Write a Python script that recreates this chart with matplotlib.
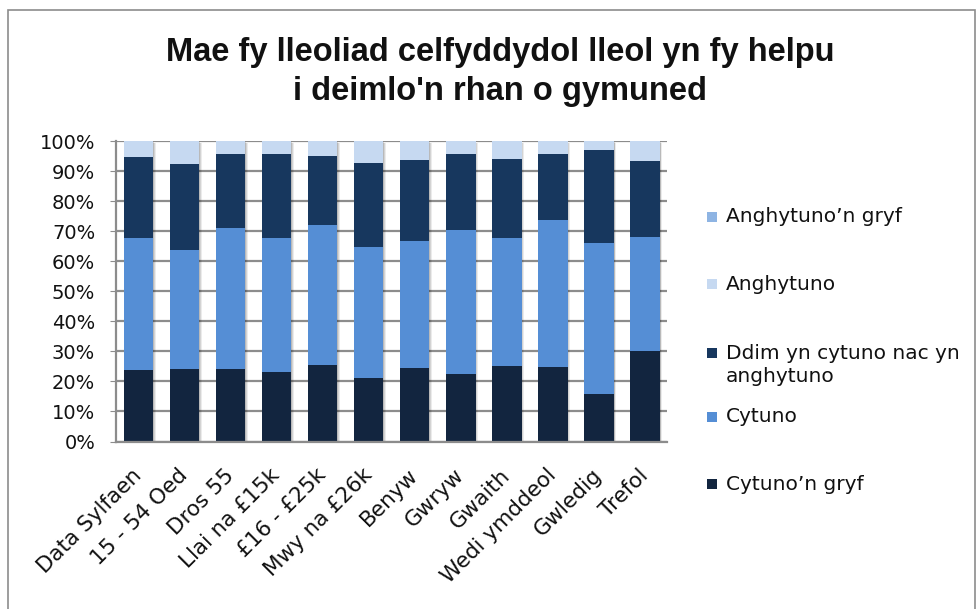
import matplotlib
matplotlib.use("Agg")
import matplotlib.pyplot as plt
from matplotlib.patches import Rectangle
import numpy as np

categories = ["Data Sylfaen", "15 - 54 Oed", "Dros 55", "Llai na £15k", "£16 - £25k",
              "Mwy na £26k", "Benyw", "Gwryw", "Gwaith", "Wedi ymddeol", "Gwledig", "Trefol"]

cytuno_gryf = [23.7, 24.0, 24.0, 23.2, 25.3, 21.1, 24.3, 22.6, 25.0, 24.7, 15.8, 30.0]
cytuno      = [44.1, 39.6, 47.0, 44.6, 46.8, 43.5, 42.5, 47.7, 42.8, 48.9, 50.2, 38.1]
ddim        = [26.8, 28.8, 24.6, 27.8, 22.8, 28.2, 27.0, 25.3, 26.3, 22.0, 31.0, 25.3]
anghytuno   = [5.4, 7.6, 4.4, 4.4, 5.1, 7.2, 6.2, 4.4, 5.9, 4.4, 3.0, 6.6]
anghytuno_gryf = [0, 0, 0, 0, 0, 0, 0, 0, 0, 0, 0, 0]

series = [
    ("Cytuno’n gryf", cytuno_gryf, "#12253F"),
    ("Cytuno", cytuno, "#558ED5"),
    ("Ddim yn cytuno nac yn\nanghytuno", ddim, "#17375E"),
    ("Anghytuno", anghytuno, "#C6D9F1"),
    ("Anghytuno’n gryf", anghytuno_gryf, "#8EB4E3"),
]

title = "Mae fy lleoliad celfyddydol lleol yn fy helpu\ni deimlo'n rhan o gymuned"
yticks = [0, 10, 20, 30, 40, 50, 60, 70, 80, 90, 100]
ytick_labels = [f"{v}%" for v in yticks]

W, H = 979, 609
fig = plt.figure(figsize=(W / 100, H / 100), dpi=100)
fig.patch.set_facecolor("white")

# outer chart border
fig.patches.append(Rectangle((8 / W, -0.05), (975 - 8) / W, 1.05 - 10 / H,
                             transform=fig.transFigure, fill=False,
                             edgecolor="#8c8c8c", linewidth=1.2))

ax = fig.add_axes([116 / W, (H - 441.5) / H, (667 - 116) / W, (441.5 - 141) / H])
x = np.arange(len(categories))
width = 0.64

# soft shadow behind each whole stacked bar
totals = np.sum([np.array(s[1], dtype=float) for s in series], axis=0)
for dx, dy, a in [(0.05, -0.8, 0.08), (0.035, -0.5, 0.10), (0.02, -0.3, 0.12)]:
    ax.bar(x + dx, totals, bottom=dy, width=width, color="black", alpha=a,
           zorder=2, linewidth=0)

bottom = np.zeros(len(categories))
for name, vals, col in series:
    vals = np.array(vals, dtype=float)
    ax.bar(x, vals, bottom=bottom, width=width, color=col, label=name, zorder=3,
           linewidth=0)
    bottom += vals

ax.set_xlim(-0.49, 11.48)
ax.set_ylim(0, 100)
ax.set_yticks(yticks)
ax.set_yticklabels(ytick_labels, fontsize=14, color="#111111")
ax.yaxis.grid(True, color="#8c8c8c", linewidth=1.6, zorder=0)
ax.set_axisbelow(True)
for s in ["top", "right"]:
    ax.spines[s].set_visible(False)
for s in ["left", "bottom"]:
    ax.spines[s].set_color("#8c8c8c")
    ax.spines[s].set_linewidth(1.6)
    ax.spines[s].set_zorder(4)
ax.tick_params(axis="y", length=4, color="#8c8c8c", pad=11)
ax.tick_params(axis="x", length=0, pad=22)
ax.set_xticks(x)
ax.set_xticklabels(categories, rotation=45, ha="right", va="center",
                   rotation_mode="anchor", fontsize=15.5, color="#111111")

fig.text(500 / W, 1 - 72 / H, title, ha="center", va="center", fontsize=23.5,
         fontweight="bold", family="Liberation Sans", linespacing=1.3, color="#111111")

# legend (reverse order)
leg_y = [217, 284, 365, 417, 484]
for (name, vals, col), yy in zip(series[::-1], leg_y):
    first_line_y = yy - (12.5 if "\n" in name else 0)
    fig.patches.append(Rectangle((707 / W, 1 - (first_line_y + 5) / H), 10 / W, 10 / H,
                                 transform=fig.transFigure, facecolor=col, edgecolor="none"))
    fig.text(726 / W, 1 - yy / H, name, ha="left", va="center", fontsize=14.5,
             color="#111111", linespacing=1.3)

fig.savefig("out.png", dpi=100)
